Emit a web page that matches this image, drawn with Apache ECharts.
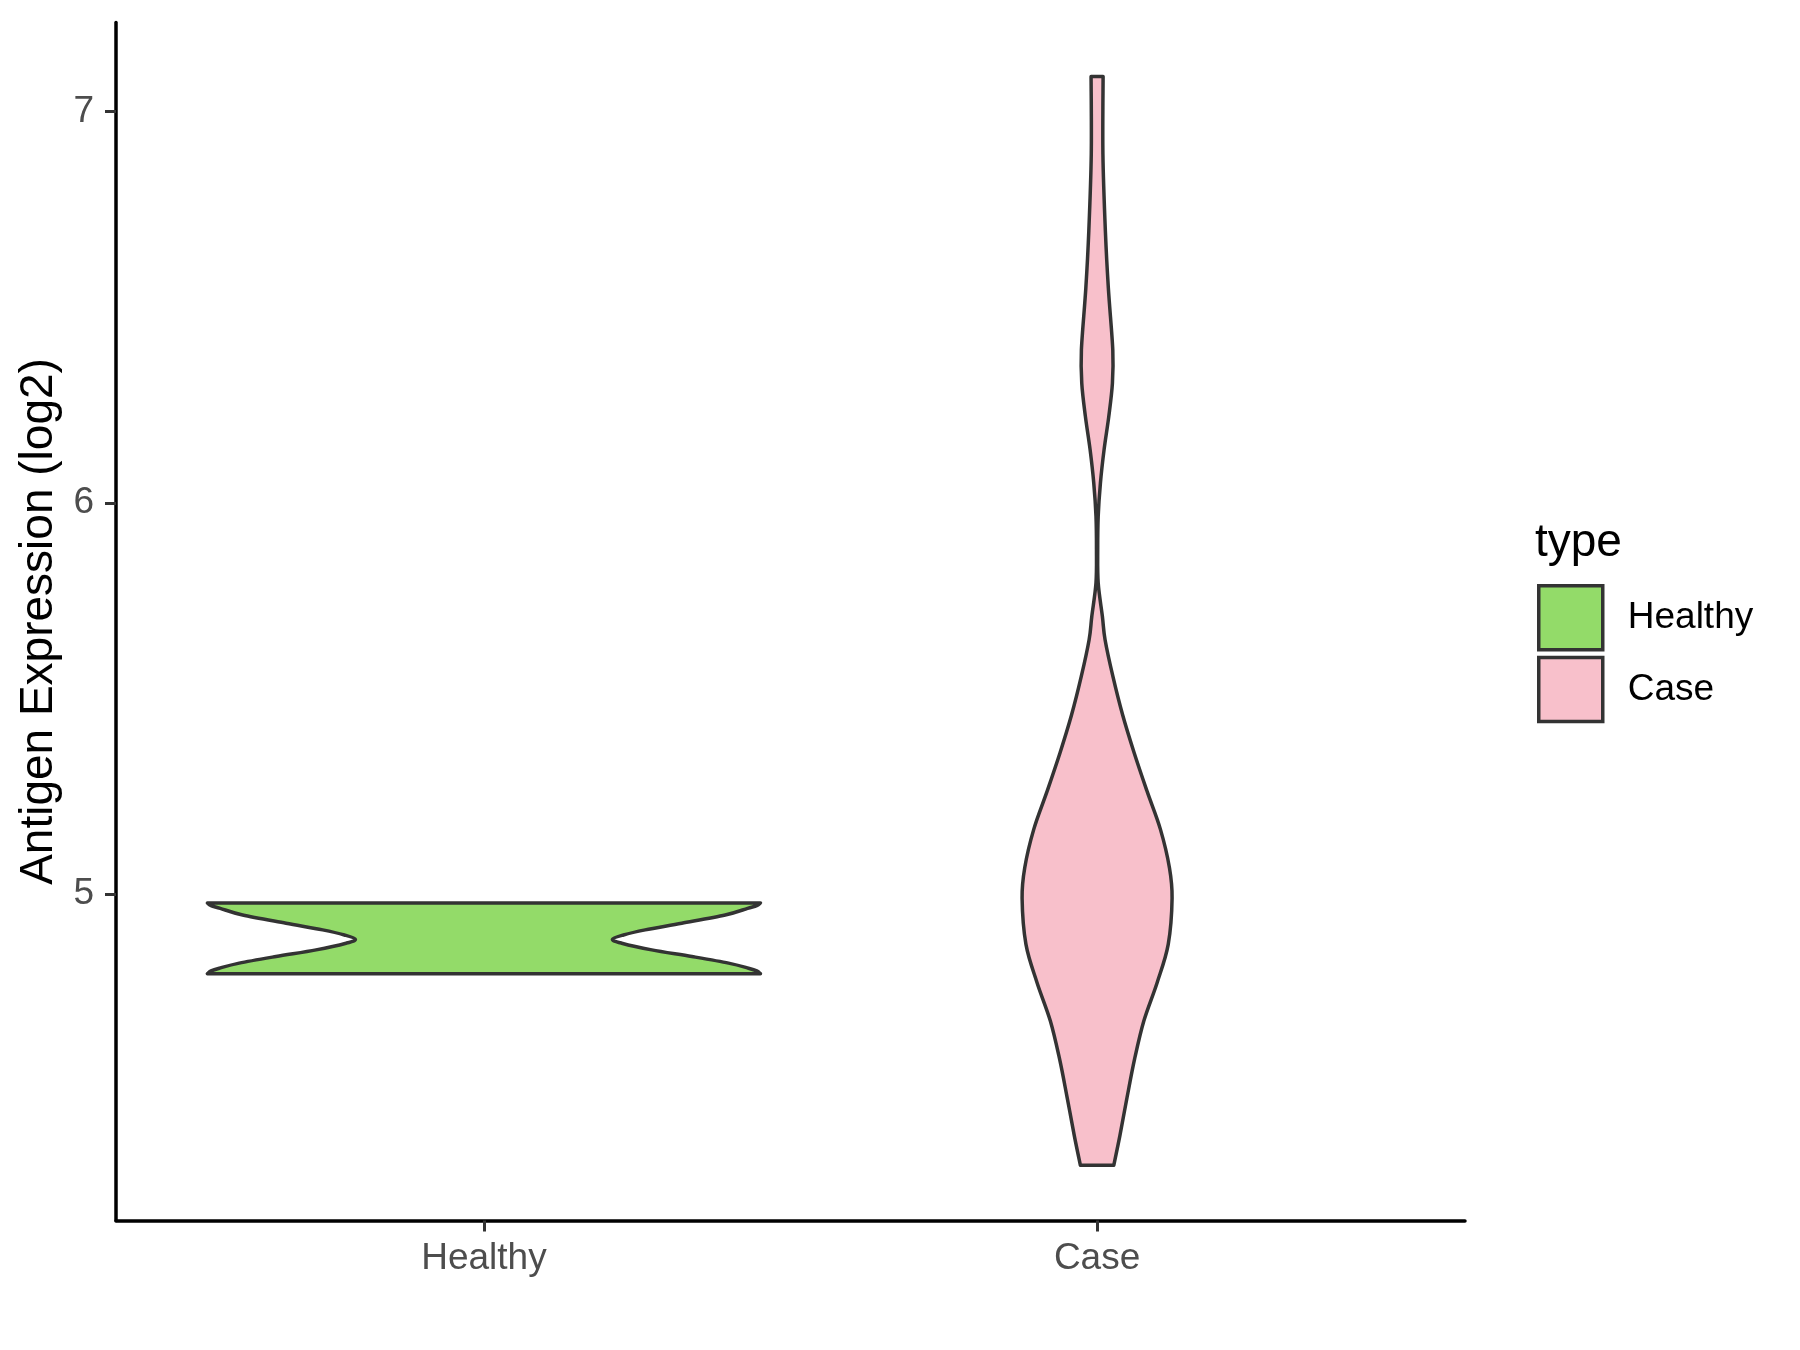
<!DOCTYPE html>
<html><head><meta charset="utf-8">
<script src="https://cdn.jsdelivr.net/npm/echarts@6/dist/echarts.min.js"></script>
<style>html,body{margin:0;padding:0;background:#fff}#c{width:1800px;height:1350px}</style>
</head><body><div id="c"></div>
<script>
// ---- data ----
const categories = ['Healthy', 'Case'];
const legendTitle = 'type';
const yAxisTitle = 'Antigen Expression (log2)';
const yTicks = [5, 6, 7];
// violin outline: expression value and half-width (density)
const healthyValues = [4.977, 4.970, 4.963, 4.946, 4.925, 4.908, 4.895, 4.884, 4.874, 4.857, 4.840, 4.823, 4.810, 4.803, 4.796];
const healthyHalfWidths = [0.451, 0.445, 0.430, 0.3935, 0.3227, 0.263, 0.2276, 0.2096, 0.2248, 0.2737, 0.339, 0.399, 0.4315, 0.445, 0.451];
const caseValues = [7.090, 6.891, 6.695, 6.548, 6.391, 6.306, 6.221, 6.136, 6.050, 5.965, 5.880, 5.795, 5.710, 5.650, 5.556, 5.458, 5.361, 5.262, 5.165, 5.067, 4.989, 4.871, 4.773, 4.675, 4.578, 4.480, 4.382, 4.306];
const caseHalfWidths = [0.0098, 0.0095, 0.0135, 0.0184, 0.0256, 0.025, 0.0191, 0.0114, 0.0054, 0.0018, 0.0010, 0.0018, 0.0086, 0.013, 0.0258, 0.0416, 0.0604, 0.0816, 0.1033, 0.118, 0.1223, 0.116, 0.0979, 0.0762, 0.0612, 0.0489, 0.0372, 0.0272];
const fillColors = ['#93DB69', '#F8C0CB'];

// ---- drawing ----
function splinePath(pts) {
  let d = '';
  for (let i = 0; i < pts.length - 1; i++) {
    const p0 = pts[Math.max(i - 1, 0)], p1 = pts[i], p2 = pts[i + 1], p3 = pts[Math.min(i + 2, pts.length - 1)];
    const c1 = [p1[0] + (p2[0] - p0[0]) / 6, p1[1] + (p2[1] - p0[1]) / 6];
    const c2 = [p2[0] - (p3[0] - p1[0]) / 6, p2[1] - (p3[1] - p1[1]) / 6];
    d += ' C' + c1[0] + ' ' + c1[1] + ' ' + c2[0] + ' ' + c2[1] + ' ' + p2[0] + ' ' + p2[1];
  }
  return d;
}
function makeRender(vals, halfs, center, color) {
  return function (params, api) {
    const left = vals.map((v, i) => api.coord([center - halfs[i], v]));
    const right = vals.map((v, i) => api.coord([center + halfs[i], v])).reverse();
    let d = 'M' + left[0][0] + ' ' + left[0][1] + splinePath(left);
    d += ' L' + right[0][0] + ' ' + right[0][1] + splinePath(right) + ' Z';
    return {
      type: 'path',
      shape: { pathData: d },
      style: { fill: color, stroke: '#333333', lineWidth: 3.5, lineJoin: 'round' }
    };
  };
}

const chart = echarts.init(document.getElementById('c'), null, { renderer: 'canvas' });
const font = '"Liberation Sans", Arial, sans-serif';
chart.setOption({
  animation: false,
  backgroundColor: '#ffffff',
  textStyle: { fontFamily: font },
  grid: { left: 116, right: 335, top: 22.5, bottom: 129.5, containLabel: false },
  title: {
    text: legendTitle, left: 1535, top: 520, padding: 0,
    textStyle: { fontSize: 46, fontWeight: 'normal', color: '#000', fontFamily: font }
  },
  legend: {
    orient: 'vertical', left: 1537, top: 584, padding: 0,
    itemWidth: 64, itemHeight: 64, itemGap: 4.2, icon: 'rect', selectedMode: false,
    itemStyle: { borderColor: '#333333', borderWidth: 3.5 },
    textStyle: { fontSize: 37, color: '#000', fontFamily: font, padding: [7, 0, 0, 20] },
    data: categories
  },
  xAxis: {
    type: 'value', min: 0.4, max: 2.6,
    splitLine: { show: false },
    axisLine: { show: true, lineStyle: { color: '#000', width: 3.5 } },
    axisTick: { show: true, customValues: [1, 2], length: 11, lineStyle: { color: '#333', width: 3 } },
    axisLabel: { customValues: [1, 2], formatter: v => categories[Math.round(v) - 1], fontSize: 37, color: '#4D4D4D', margin: 20, fontFamily: font }
  },
  yAxis: {
    type: 'value', min: 4.165, max: 7.228,
    name: yAxisTitle, nameLocation: 'middle', nameGap: 51,
    nameTextStyle: { fontSize: 46, color: '#000', fontFamily: font },
    splitLine: { show: false },
    axisLine: { show: true, lineStyle: { color: '#000', width: 3.5 } },
    axisTick: { show: true, customValues: yTicks, length: 11, lineStyle: { color: '#333', width: 3 } },
    axisLabel: { customValues: yTicks, fontSize: 37, color: '#4D4D4D', margin: 22, fontFamily: font }
  },
  series: [
    { type: 'custom', name: categories[0], coordinateSystem: 'cartesian2d', clip: false,
      itemStyle: { color: fillColors[0], borderColor: '#333333' },
      data: [[1, healthyValues[0]]], renderItem: makeRender(healthyValues, healthyHalfWidths, 1, fillColors[0]) },
    { type: 'custom', name: categories[1], coordinateSystem: 'cartesian2d', clip: false,
      itemStyle: { color: fillColors[1], borderColor: '#333333' },
      data: [[2, caseValues[0]]], renderItem: makeRender(caseValues, caseHalfWidths, 2, fillColors[1]) }
  ]
});
</script></body></html>
